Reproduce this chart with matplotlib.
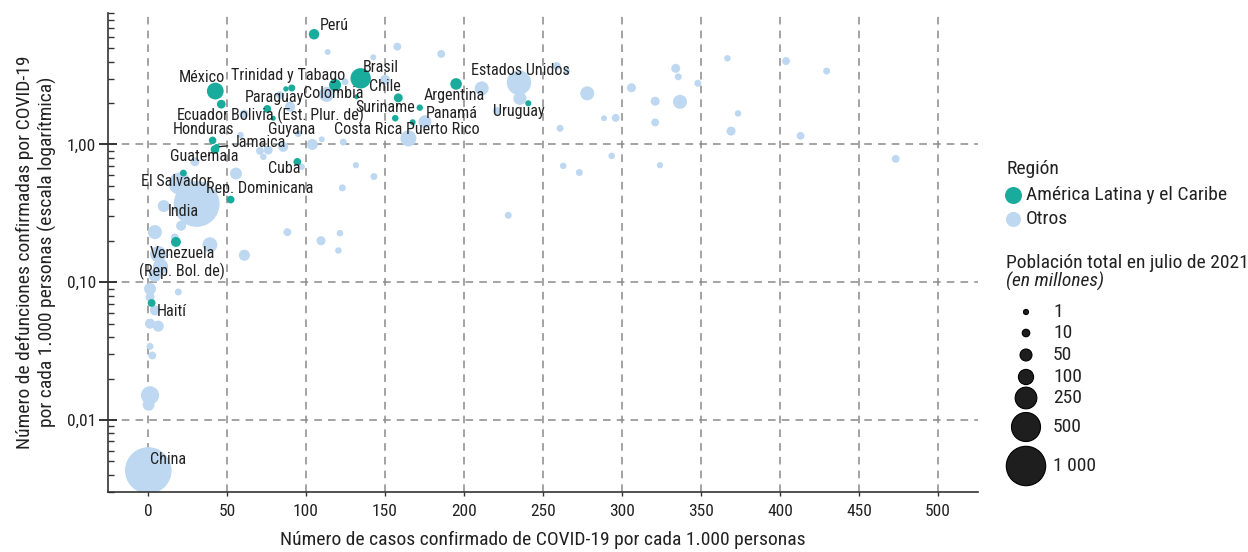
import numpy as np
import matplotlib
matplotlib.use("Agg")
import matplotlib.pyplot as plt
from matplotlib import font_manager
from matplotlib.ticker import FixedLocator, FixedFormatter, LogLocator, NullFormatter

_names = {f.name for f in font_manager.fontManager.ttflist}
_narrow = ["Roboto Condensed", "Liberation Sans Narrow", "Arial Narrow"]
_regular = ["Roboto", "Liberation Sans", "Noto Sans"]
FONT, NARROW = "DejaVu Sans", False
for c in _narrow + _regular:
    if c in _names:
        FONT, NARROW = c, c in _narrow
        break
plt.rcParams['font.family'] = [FONT, 'DejaVu Sans']
if NARROW:
    FS_LAB, FS_TICK, FS_AX, FS_LEG = 11.6, 12.5, 14, 14
else:
    FS_LAB, FS_TICK, FS_AX, FS_LEG = 10.0, 10.5, 12.2, 12.6

# ---------------- data ----------------
# América Latina y el Caribe
lac_names = ["Perú", "México", "Ecuador", "Trinidad y Tabago", "Paraguay", "Bolivia (Est. Plur. de)",
             "Guyana", "Colombia", "Brasil", "Suriname", "Chile", "Argentina", "Panamá",
             "Costa Rica", "Puerto Rico", "Uruguay", "Honduras", "Guatemala", "Jamaica",
             "El Salvador", "Cuba", "Rep. Dominicana", "Venezuela\n(Rep. Bol. de)", "Haití"]
lac_cases = [105.1, 42.6, 46.4, 87.3, 91.0, 75.5, 79.3, 118.4, 134.6, 132.0, 158.4, 195.0, 172.0,
             156.5, 167.5, 240.7, 40.9, 42.4, 43.5, 22.4, 94.5, 52.3, 17.7, 2.3]
lac_deaths = [6.31, 2.44, 1.96, 2.53, 2.57, 1.81, 1.55, 2.70, 3.02, 2.22, 2.18, 2.75, 1.85,
              1.55, 1.45, 1.99, 1.07, 0.92, 0.96, 0.62, 0.747, 0.398, 0.196, 0.0707]
lac_pop = [33.4, 130.0, 17.9, 1.4, 7.2, 11.8, 0.8, 51.3, 214.0, 0.6, 19.2, 45.8, 4.4,
           5.2, 3.3, 3.5, 10.1, 17.1, 3.0, 6.5, 11.3, 11.1, 28.2, 11.5]

# Otros
oth_names = ["Estados Unidos", "India", "China"]
oth_cases = [234.8, 30.8, 0.2,
             4.4, 6.5, 8.0, 4.4, 1.3, 1.3, 4.4, 1.3, 6.5, 1.3, 2.7, 1.3, 0.4, 19.2,
             10.0, 21.0, 17.0, 39.2, 61.0, 20.3, 29.7, 55.7,
             113.7, 157.8, 142.6, 185.6, 150.0, 124.7, 113.0, 211.2, 235.4, 220.7, 175.3, 164.8,
             123.6, 110.0, 104.0, 258.6, 265.0, 278.0, 306.0, 334.0, 335.6, 348.0, 321.0, 336.7,
             288.6, 296.0, 321.0, 260.8, 293.5, 262.8, 273.0, 324.0, 131.6, 143.0, 123.0,
             366.7, 403.8, 429.5, 373.4, 369.0, 413.0, 473.2,
             83.5, 60.8, 95.1, 85.6, 76.1, 70.9, 73.0, 58.6, 97.3, 228.0, 88.2, 121.5, 109.5, 120.5,
             89.9]
oth_deaths = [2.81, 0.37, 0.0043,
              0.231, 0.16, 0.13, 0.112, 0.0895, 0.078, 0.0625, 0.050, 0.048, 0.0342, 0.0294, 0.0151, 0.0129, 0.085,
              0.357, 0.257, 0.212, 0.187, 0.157, 0.52, 0.75, 0.615,
              4.69, 5.13, 4.29, 4.54, 2.94, 2.85, 2.31, 2.55, 2.16, 1.75, 1.46, 1.106,
              1.04, 1.09, 1.00, 3.71, 3.41, 2.35, 2.58, 3.57, 3.10, 2.78, 2.06, 2.04,
              1.55, 1.56, 1.445, 1.31, 0.826, 0.699, 0.626, 0.707, 0.707, 0.585, 0.484,
              4.22, 4.03, 3.41, 1.68, 1.25, 1.155, 0.786,
              2.28, 1.66, 1.20, 0.96, 0.91, 0.898, 0.813, 1.17, 0.688, 0.306, 0.231, 0.227, 0.20, 0.17,
              1.88]
oth_pop = [332.0, 1393.0, 1444.0,
           80, 120, 100, 60, 50, 20, 30, 30, 40, 7, 12, 160, 50, 7,
           51, 29, 10, 96, 40, 273, 20, 51,
           3, 12, 3, 12, 29, 7, 96, 80, 65, 12, 65, 115,
           7, 3, 39, 12, 5, 80, 20, 20, 7, 7, 20, 80,
           3, 12, 12, 7, 5, 5, 7, 4, 4, 7, 7,
           5, 12, 7, 5, 20, 12, 12,
           12, 20, 7, 29, 20, 12, 5, 5, 5, 7, 12, 5, 20, 5,
           30]

legend_sizes = [1, 10, 50, 100, 250, 500, 1000]
legend_size_labels = ["1", "10", "50", "100", "250", "500", "1 000"]
region_labels = ["América Latina y el Caribe", "Otros"]

y_ticks = [0.01, 0.1, 1.0]
y_ticklabels = ["0,01", "0,10", "1,00"]
x_ticks = [0, 50, 100, 150, 200, 250, 300, 350, 400, 450, 500]

# ---------------- style ----------------
TEAL = "#19ab9b"
BLUE = "#bdd8f0"
TXT = "#222222"
W, H = 1248, 552


def diam_px(p):
    return 4.0 + 1.12 * np.sqrt(np.asarray(p, dtype=float))


def s_of(p):
    return (diam_px(p) * 72.0 / 100.0) ** 2


# label placement (pixel offsets from the point, ha)
lab_off = {
    "Perú": (6, 9, "left"), "México": (-13, 14, "center"), "Trinidad y Tabago": (2, 13, "center"),
    "Paraguay": (-17, -10, "center"), "Colombia": (-2, -8, "center"), "Brasil": (2, 11, "left"),
    "Chile": (-13, 11, "center"), "Suriname": (29, -11, "center"), "Argentina": (-2, -12, "center"),
    "Panamá": (32, -6, "center"), "Costa Rica": (-27, -11, "center"), "Puerto Rico": (30, -7, "center"),
    "Estados Unidos": (1, 12, "center"), "Uruguay": (-9, -8, "center"), "Ecuador": (-19, -11, "center"),
    "Bolivia (Est. Plur. de)": (-36, -6, "left"), "Guyana": (18, -11, "center"),
    "Honduras": (-9, 11, "center"), "Jamaica": (15, 4, "left"), "Guatemala": (-11, -7, "center"),
    "El Salvador": (-7, -8, "center"), "Cuba": (-13, -7, "center"), "Rep. Dominicana": (29, 11, "center"),
    "India": (-13, -8, "center"), "Venezuela\n(Rep. Bol. de)": (6, -21, "center"),
    "Haití": (20, -9, "center"), "China": (20, 11, "center"),
}

fig = plt.figure(figsize=(W / 100, H / 100), dpi=100)
ax = fig.add_axes([108 / W, 1 - 492 / H, (978 - 108) / W, (492 - 13) / H])

ax.set_yscale("log")
ax.set_xlim(-25.3, 525.3)
ax.set_ylim(0.003, 9)

ax.scatter(oth_cases, oth_deaths, s=s_of(oth_pop), color=BLUE, linewidths=0, zorder=2)
ax.scatter(lac_cases, lac_deaths, s=s_of(lac_pop), color=TEAL, linewidths=0, zorder=3)

allx = dict(zip(lac_names, lac_cases)); ally = dict(zip(lac_names, lac_deaths))
allx.update(zip(oth_names, oth_cases[:3])); ally.update(zip(oth_names, oth_deaths[:3]))
for name, (dx, dy, ha) in lab_off.items():
    kw = {}
    if name == "Jamaica":
        kw = dict(arrowprops=dict(arrowstyle="-", color=TXT, lw=1.0, shrinkA=1, shrinkB=2))
    ax.annotate(name, (allx[name], ally[name]), xytext=(dx, dy), textcoords="offset pixels",
                ha=ha, va="center", fontsize=FS_LAB, color=TXT, zorder=5,
                multialignment="center", linespacing=1.15, **kw)

# axes styling
for sp in ("top", "right"):
    ax.spines[sp].set_visible(False)
for sp in ("left", "bottom"):
    ax.spines[sp].set_color("#333333")
    ax.spines[sp].set_linewidth(1.2)

ax.xaxis.set_major_locator(FixedLocator(x_ticks))
ax.yaxis.set_major_locator(FixedLocator(y_ticks))
ax.yaxis.set_major_formatter(FixedFormatter(y_ticklabels))
ax.yaxis.set_minor_locator(LogLocator(base=10, subs=np.arange(2, 10)))
ax.yaxis.set_minor_formatter(NullFormatter())
ax.tick_params(axis="y", which="major", direction="inout", length=13, width=1.4, color="#333333",
               labelsize=FS_TICK, labelcolor=TXT, pad=2)
ax.tick_params(axis="y", which="minor", direction="in", length=4, width=1.0, color="#333333")
ax.tick_params(axis="x", which="major", direction="out", length=3, width=1.0, color="#333333",
               labelsize=FS_TICK, labelcolor=TXT, pad=6)

ax.grid(True, which="major", axis="both", color="#8a8a8a", linestyle=(0, (5, 4)), linewidth=1.1, zorder=1)
ax.set_axisbelow(True)

fig.text(543 / W, 1 - 540 / H, "Número de casos confirmado de COVID-19 por cada 1.000 personas",
         ha="center", va="center", fontsize=FS_AX, color=TXT)
fig.text(36 / W, 1 - 252 / H,
         "Número de defunciones confirmadas por COVID-19\npor cada 1.000 personas (escala logarítmica)",
         ha="center", va="center", rotation=90, fontsize=FS_AX, color=TXT, linespacing=1.25,
         multialignment="center")

# ---------------- legend (overlay in pixel coordinates) ----------------
lax = fig.add_axes([0, 0, 1, 1], facecolor="none")
lax.set_xlim(0, W)
lax.set_ylim(H, 0)
lax.axis("off")

lax.text(1006, 169, "Región", ha="left", va="center", fontsize=FS_LEG, color=TXT)
reg_y = [195, 219]
reg_col = [TEAL, BLUE]
reg_d = [17, 15]
for yy, c, d, lab in zip(reg_y, reg_col, reg_d, region_labels):
    lax.scatter([1013], [yy], s=(d * 0.72) ** 2, color=c, linewidths=0)
    lax.text(1026, yy, lab, ha="left", va="center", fontsize=FS_LEG, color=TXT)

lax.text(1006, 263, "Población total en julio de 2021", ha="left", va="center", fontsize=FS_LEG, color=TXT)
lax.text(1006, 281, "(en millones)", ha="left", va="center", fontsize=FS_LEG, color=TXT, style="italic")
size_y = [312, 333, 355, 377, 398, 427, 466]
lax.scatter([1026] * len(legend_sizes), size_y, s=s_of(legend_sizes), color="#1e1e1e",
            edgecolors="#000000", linewidths=0.8)
for yy, lab in zip(size_y, legend_size_labels):
    lax.text(1053, yy, lab, ha="left", va="center", fontsize=FS_LEG, color=TXT)

fig.savefig("out.png", dpi=100)
